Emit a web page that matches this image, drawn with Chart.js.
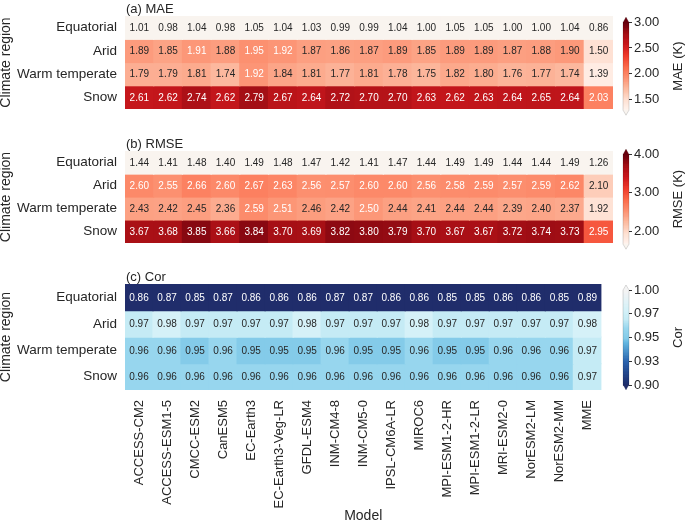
<!DOCTYPE html>
<html>
<head>
<meta charset="utf-8">
<script src="https://cdn.jsdelivr.net/npm/chart.js@4.4.1/dist/chart.umd.min.js"></script>
<style>
  body { margin: 0; background: #fff; }
  #wrap { position: relative; width: 685px; height: 526px; overflow: hidden; background: #fff; }
  canvas { position: absolute; }
</style>
</head>
<body>
<div id="wrap">
  <canvas id="mae" width="613" height="125" style="left:0;top:0"></canvas>
  <canvas id="rmse" width="613" height="124" style="left:0;top:135px"></canvas>
  <canvas id="cor" width="613" height="258" style="left:0;top:268px"></canvas>
  <canvas id="maecb" width="72" height="110" style="left:613px;top:10px"></canvas>
  <canvas id="rmsecb" width="72" height="112" style="left:613px;top:142px"></canvas>
  <canvas id="corcb" width="72" height="118" style="left:613px;top:278px"></canvas>
</div>
<script>
// Data
const models = ['ACCESS-CM2', 'ACCESS-ESM1-5', 'CMCC-ESM2', 'CanESM5', 'EC-Earth3', 'EC-Earth3-Veg-LR',
  'GFDL-ESM4', 'INM-CM4-8', 'INM-CM5-0', 'IPSL-CM6A-LR', 'MIROC6', 'MPI-ESM1-2-HR', 'MPI-ESM1-2-LR',
  'MRI-ESM2-0', 'NorESM2-LM', 'NorESM2-MM', 'MME'];
const regions = ['Equatorial', 'Arid', 'Warm temperate', 'Snow'];

const maeValues = [
  [1.01, 0.98, 1.04, 0.98, 1.05, 1.04, 1.03, 0.99, 0.99, 1.04, 1.00, 1.05, 1.05, 1.00, 1.00, 1.04, 0.86],
  [1.89, 1.85, 1.91, 1.88, 1.95, 1.92, 1.87, 1.86, 1.87, 1.89, 1.85, 1.89, 1.89, 1.87, 1.88, 1.90, 1.50],
  [1.79, 1.79, 1.81, 1.74, 1.92, 1.84, 1.81, 1.77, 1.81, 1.78, 1.75, 1.82, 1.80, 1.76, 1.77, 1.74, 1.39],
  [2.61, 2.62, 2.74, 2.62, 2.79, 2.67, 2.64, 2.72, 2.70, 2.70, 2.63, 2.62, 2.63, 2.64, 2.65, 2.64, 2.03]
];
const rmseValues = [
  [1.44, 1.41, 1.48, 1.40, 1.49, 1.48, 1.47, 1.42, 1.41, 1.47, 1.44, 1.49, 1.49, 1.44, 1.44, 1.49, 1.26],
  [2.60, 2.55, 2.66, 2.60, 2.67, 2.63, 2.56, 2.57, 2.60, 2.60, 2.56, 2.58, 2.59, 2.57, 2.59, 2.62, 2.10],
  [2.43, 2.42, 2.45, 2.36, 2.59, 2.51, 2.46, 2.42, 2.50, 2.44, 2.41, 2.44, 2.44, 2.39, 2.40, 2.37, 1.92],
  [3.67, 3.68, 3.85, 3.66, 3.84, 3.70, 3.69, 3.82, 3.80, 3.79, 3.70, 3.67, 3.67, 3.72, 3.74, 3.73, 2.95]
];
const corValues = [
  [0.86, 0.87, 0.85, 0.87, 0.86, 0.86, 0.86, 0.87, 0.87, 0.86, 0.86, 0.85, 0.85, 0.86, 0.86, 0.85, 0.89],
  [0.97, 0.98, 0.97, 0.97, 0.97, 0.97, 0.98, 0.97, 0.97, 0.97, 0.98, 0.97, 0.97, 0.97, 0.97, 0.97, 0.98],
  [0.96, 0.96, 0.95, 0.96, 0.95, 0.95, 0.95, 0.96, 0.95, 0.95, 0.96, 0.95, 0.95, 0.96, 0.96, 0.96, 0.97],
  [0.96, 0.96, 0.96, 0.96, 0.96, 0.96, 0.96, 0.96, 0.96, 0.96, 0.96, 0.96, 0.96, 0.96, 0.96, 0.96, 0.97]
];

const maeTicks = [1.5, 2.0, 2.5, 3.0];
const rmseTicks = [2.0, 3.0, 4.0];
const corTicks = [0.9, 0.925, 0.95, 0.975, 1.0];

const FONT = '"Liberation Sans", Arial, Helvetica, sans-serif';
const DARK = '#262626';
Chart.defaults.font.family = FONT;
Chart.defaults.color = DARK;

// Colormaps
const REDS = ['#fff5f0', '#fee0d2', '#fcbba1', '#fc9272', '#fb6a4a', '#ef3b2c', '#cb181d', '#a50f15', '#67000d']
  .map((c, i, a) => [i / (a.length - 1), c]);
const CORMAP = [[0, '#1d2a68'], [0.25, '#2a62ad'], [0.45, '#62b6e0'], [0.5, '#84cbe9'], [0.6, '#97d6ee'],
  [0.7, '#c5ebf5'], [0.8, '#d5f1f8'], [1, '#f4f4f4']];

function hexRgb(h) {
  return [parseInt(h.slice(1, 3), 16), parseInt(h.slice(3, 5), 16), parseInt(h.slice(5, 7), 16)];
}
function cmapRgb(stops, t) {
  t = Math.max(0, Math.min(1, t));
  for (let k = 1; k < stops.length; k++) {
    if (t <= stops[k][0]) {
      const [t0, c0] = stops[k - 1], [t1, c1] = stops[k];
      const f = (t - t0) / (t1 - t0);
      const a = hexRgb(c0), b = hexRgb(c1);
      return a.map((x, i) => Math.round(x + (b[i] - x) * f));
    }
  }
  return hexRgb(stops[stops.length - 1][1]);
}
function cellRgb(p, v) {
  if (v < p.vmin) return hexRgb(p.under);
  if (v > p.vmax) return hexRgb(p.over);
  // round so 0.95 etc. land exactly on the stops
  const t = Math.round((v - p.vmin) / (p.vmax - p.vmin) * 1e6) / 1e6;
  return cmapRgb(p.cmap, t);
}
const rgbStr = c => `rgb(${c[0]},${c[1]},${c[2]})`;
function textColor(rgb) {
  const lin = rgb.map(x => { x /= 255; return x <= 0.03928 ? x / 12.92 : Math.pow((x + 0.055) / 1.055, 2.4); });
  const lum = 0.2126 * lin[0] + 0.7152 * lin[1] + 0.0722 * lin[2];
  return lum > 0.446 ? DARK : '#ffffff';
}

const panels = [
  { id: 'mae', values: maeValues, vmin: 1.3, vmax: 3.0, cmap: REDS, under: '#f9f4ef', over: '#67000d',
    title: '(a) MAE', cbLabel: 'MAE (K)', ticks: maeTicks, showX: false,
    padding: { top: 15, bottom: 2, left: 0, right: 0 }, cbPadding: { top: 12, bottom: 9, left: 10, right: 0 } },
  { id: 'rmse', values: rmseValues, vmin: 1.66, vmax: 4.0, cmap: REDS, under: '#f9f4ef', over: '#67000d',
    title: '(b) RMSE', cbLabel: 'RMSE (K)', ticks: rmseTicks, showX: false,
    padding: { top: 14, bottom: 2, left: 0, right: 0 }, cbPadding: { top: 12, bottom: 8, left: 10, right: 0 } },
  { id: 'cor', values: corValues, vmin: 0.9, vmax: 1.0, cmap: CORMAP, under: '#202d6b', over: '#f4f4f4',
    title: '(c) Cor', cbLabel: 'Cor', ticks: corTicks, showX: true,
    padding: { top: 14, bottom: 0, left: 0, right: 0 }, cbPadding: { top: 12, bottom: 11, left: 10, right: 0 } }
];

// cell numbers, panel title and the y title
function panelPlugin(p) {
  return {
    id: 'panelText',
    afterDatasetsDraw(chart) {
      const ctx = chart.ctx, a = chart.chartArea;
      ctx.save();
      ctx.font = '10px ' + FONT;
      ctx.textAlign = 'center';
      ctx.textBaseline = 'middle';
      chart.data.datasets.forEach((ds, i) => {
        chart.getDatasetMeta(i).data.forEach((bar, j) => {
          const v = p.values[i][j];
          ctx.fillStyle = textColor(cellRgb(p, v));
          ctx.fillText(v.toFixed(2), bar.x, (bar.y + bar.base) / 2 + 0.5);
        });
      });
      ctx.fillStyle = DARK;
      ctx.font = '13px ' + FONT;
      ctx.textAlign = 'left';
      ctx.textBaseline = 'alphabetic';
      ctx.fillText(p.title, a.left + 1, a.top - 3.5);
      ctx.font = '14px ' + FONT;
      ctx.translate(10, (a.top + a.bottom) / 2);
      ctx.rotate(-Math.PI / 2);
      ctx.textAlign = 'center';
      ctx.fillText('Climate region', 0, 0);
      ctx.restore();
    }
  };
}

function makeHeatmap(p) {
  const datasets = regions.map((r, i) => ({
    label: r,
    data: p.values[i].map(() => [i - 0.5, i + 0.5]),
    backgroundColor: p.values[i].map(v => rgbStr(cellRgb(p, v))),
    borderWidth: 0,
    grouped: false,
    categoryPercentage: 1,
    barPercentage: 1,
    inflateAmount: 0.6
  }));
  const xScale = p.showX ? {
    grid: { display: false, drawTicks: false },
    border: { display: false },
    ticks: { autoSkip: false, minRotation: 90, maxRotation: 90, padding: 10, font: { size: 13 } },
    title: { display: true, text: 'Model', font: { size: 14 }, padding: { top: 0, bottom: 1 } },
    afterFit: s => { s.height = 136; }
  } : { display: false };
  new Chart(document.getElementById(p.id), {
    type: 'bar',
    data: { labels: models, datasets },
    options: {
      responsive: false,
      animation: false,
      layout: { padding: p.padding },
      plugins: { legend: { display: false }, tooltip: { enabled: false } },
      scales: {
        x: xScale,
        y: {
          min: -0.5, max: 3.5, reverse: true,
          afterBuildTicks: s => { s.ticks = regions.map((_, i) => ({ value: i })); },
          grid: { display: false, drawTicks: false },
          border: { display: false },
          ticks: { callback: v => regions[v], padding: 8, font: { size: 13.5 } },
          afterFit: s => { s.width = 125; }
        }
      }
    },
    plugins: [panelPlugin(p)]
  });
}

function colorbarPlugin(p) {
  return {
    id: 'colorbar',
    beforeDatasetsDraw(chart) {
      const ctx = chart.ctx, a = chart.chartArea, y = chart.scales.y;
      const n = 160;
      ctx.save();
      for (let k = 0; k < n; k++) {
        const v0 = p.vmin + (p.vmax - p.vmin) * k / n;
        const v1 = p.vmin + (p.vmax - p.vmin) * (k + 1) / n;
        const y0 = y.getPixelForValue(v0), y1 = y.getPixelForValue(v1);
        ctx.fillStyle = rgbStr(cmapRgb(p.cmap, (k + 0.5) / n));
        ctx.fillRect(a.left, y1, a.right - a.left, y0 - y1 + 0.7);
      }
      const cx = (a.left + a.right) / 2, h = 5;
      ctx.fillStyle = p.over;
      ctx.beginPath();
      ctx.moveTo(a.left, a.top + 0.5); ctx.lineTo(cx, a.top - h); ctx.lineTo(a.right, a.top + 0.5);
      ctx.closePath(); ctx.fill();
      ctx.fillStyle = p.under;
      ctx.beginPath();
      ctx.moveTo(a.left, a.bottom - 0.5); ctx.lineTo(cx, a.bottom + h); ctx.lineTo(a.right, a.bottom - 0.5);
      ctx.closePath(); ctx.fill();
      // faint outline
      ctx.strokeStyle = 'rgba(0,0,0,0.18)';
      ctx.lineWidth = 0.8;
      ctx.beginPath();
      ctx.moveTo(cx, a.top - h); ctx.lineTo(a.right, a.top); ctx.lineTo(a.right, a.bottom);
      ctx.lineTo(cx, a.bottom + h); ctx.lineTo(a.left, a.bottom); ctx.lineTo(a.left, a.top);
      ctx.closePath(); ctx.stroke();
      // label
      ctx.fillStyle = DARK;
      ctx.font = '13px ' + FONT;
      ctx.textAlign = 'center';
      ctx.textBaseline = 'middle';
      ctx.translate(65, (a.top + a.bottom) / 2);
      ctx.rotate(-Math.PI / 2);
      ctx.fillText(p.cbLabel, 0, 0);
      ctx.restore();
    }
  };
}

function makeColorbar(p) {
  new Chart(document.getElementById(p.id + 'cb'), {
    type: 'scatter',
    data: { datasets: [] },
    options: {
      responsive: false,
      animation: false,
      layout: { padding: p.cbPadding },
      plugins: { legend: { display: false }, tooltip: { enabled: false } },
      scales: {
        x: { display: false },
        y: {
          position: 'right', min: p.vmin, max: p.vmax,
          afterBuildTicks: s => { s.ticks = p.ticks.map(v => ({ value: v })); },
          grid: { display: true, drawOnChartArea: false, drawTicks: true, tickLength: 3, color: '#333', lineWidth: 1 },
          border: { display: false },
          ticks: { padding: 2, font: { size: 13 }, callback: v => v.toFixed(2) },
          afterFit: s => { s.width = 56; }
        }
      }
    },
    plugins: [colorbarPlugin(p)]
  });
}

panels.forEach(p => { makeHeatmap(p); makeColorbar(p); });
</script>
</body>
</html>
